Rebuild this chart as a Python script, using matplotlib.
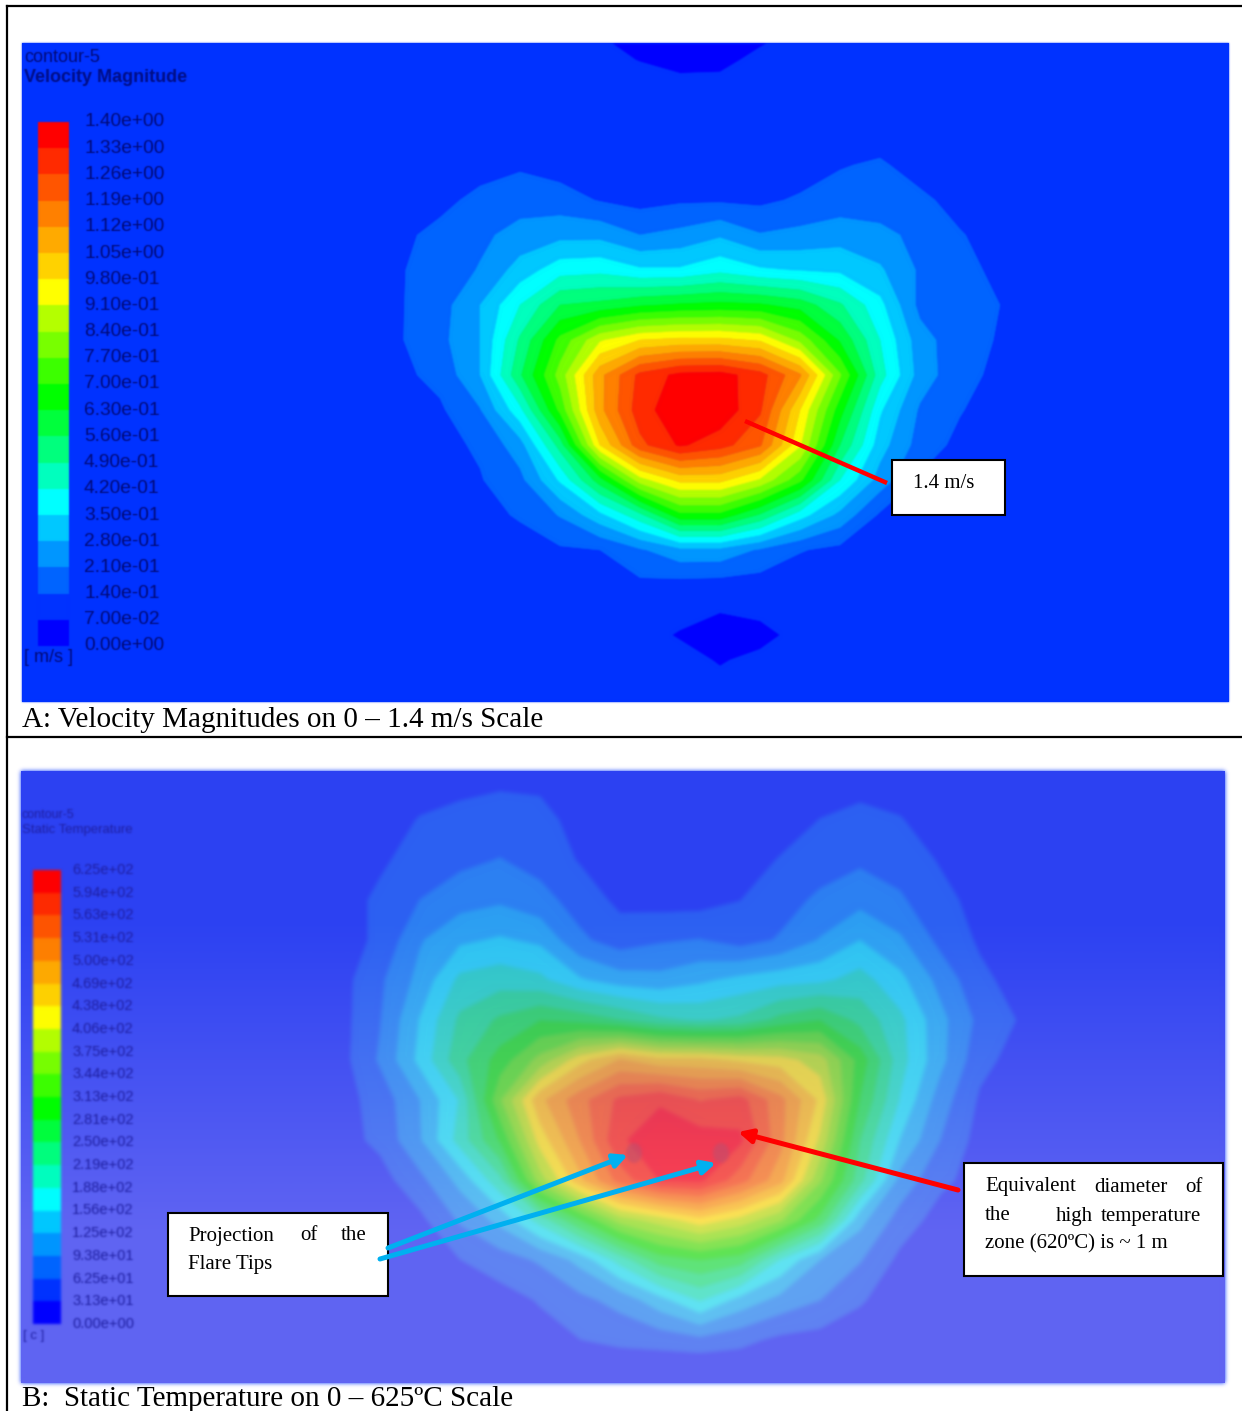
# two CFD contour plots (velocity and temperature) with call-outs, coordinates are page pixels
import numpy as np
import matplotlib
matplotlib.use('Agg')
import matplotlib.pyplot as plt
from matplotlib.colors import ListedColormap, BoundaryNorm
from matplotlib.patches import Ellipse, Rectangle

W, H = 1242, 1411

band_colors = ['#0000ff', '#0032ff', '#0064ff', '#0096ff', '#00c8ff', '#00ffff', '#00ffbe', '#00ff7d', '#00ff3c',
               '#00ff00', '#3cff00', '#78ff00', '#b4ff00', '#ffff00', '#ffd200', '#ffaa00', '#ff8000', '#ff5500',
               '#ff2a00', '#ff0000']

vel_levels = np.arange(21) * 0.07
vel_labels = ['0.00e+00', '7.00e-02', '1.40e-01', '2.10e-01', '2.80e-01', '3.50e-01', '4.20e-01', '4.90e-01',
              '5.60e-01', '6.30e-01', '7.00e-01', '7.70e-01', '8.40e-01', '9.10e-01', '9.80e-01', '1.05e+00',
              '1.12e+00', '1.19e+00', '1.26e+00', '1.33e+00', '1.40e+00']
temp_levels = np.arange(21) * 31.25
temp_labels = ['0.00e+00', '3.13e+01', '6.25e+01', '9.38e+01', '1.25e+02', '1.56e+02', '1.88e+02', '2.19e+02',
               '2.50e+02', '2.81e+02', '3.13e+02', '3.44e+02', '3.75e+02', '4.06e+02', '4.38e+02', '4.69e+02',
               '5.00e+02', '5.31e+02', '5.63e+02', '5.94e+02', '6.25e+02']

# velocity field
vel_x = [400, 440, 480, 520, 560, 600, 640, 680, 720, 760, 800, 840, 880, 920, 960, 1000, 1040]
vel_y = [43, 60, 80, 130, 165, 200, 235, 270, 305, 340, 375, 410, 445, 480, 515, 550, 580, 610, 635, 660]
vel_bg = 0.1
vel_field = [
    [.1, .1, .1, .1, .1, .08, .045, .03, .03, .065, .09, .1, .1, .1, .1, .1, .1],
    [.1, .1, .1, .1, .1, .095, .067, .05, .055, .085, .1, .1, .1, .1, .1, .1, .1],
    [.1, .1, .1, .1, .1, .1, .1, .08, .08, .1, .1, .1, .1, .1, .1, .1, .1],
    [.1, .1, .1, .1, .1, .1, .1, .1, .1, .1, .1, .1, .1, .1, .1, .1, .1],
    [.1, .1, .11, .13, .11, .1, .1, .1, .1, .1, .1, .135, .15, .11, .1, .1, .1],
    [.1, .12, .16, .18, .17, .135, .115, .13, .13, .125, .15, .17, .17, .155, .115, .1, .1],
    [.125, .16, .195, .235, .26, .26, .21, .23, .27, .215, .23, .25, .23, .19, .145, .11, .1],
    [.135, .17, .215, .31, .39, .40, .36, .36, .40, .36, .345, .335, .29, .20, .16, .125, .1],
    [.135, .18, .28, .42, .56, .58, .62, .64, .65, .64, .60, .50, .37, .19, .16, .14, .1],
    [.135, .19, .28, .50, .72, .90, .98, 1.0, 1.0, .97, .82, .62, .42, .24, .165, .135, .1],
    [.125, .16, .28, .55, .80, 1.10, 1.28, 1.35, 1.36, 1.29, 1.13, .78, .45, .25, .16, .125, .1],
    [.1, .13, .205, .40, .72, 1.10, 1.30, 1.38, 1.38, 1.27, .98, .66, .36, .20, .145, .1, .1],
    [.1, .12, .15, .25, .52, .98, 1.24, 1.34, 1.29, 1.20, .92, .56, .31, .18, .12, .1, .1],
    [.1, .1, .135, .19, .36, .60, .88, 1.0, 1.0, .90, .72, .42, .25, .13, .1, .1, .1],
    [.1, .1, .11, .15, .215, .33, .47, .68, .68, .55, .38, .26, .13, .1, .1, .1, .1],
    [.1, .1, .1, .1, .13, .14, .20, .26, .26, .20, .145, .12, .1, .1, .1, .1, .1],
    [.1, .1, .1, .1, .1, .11, .135, .135, .13, .12, .1, .1, .1, .1, .1, .1, .1],
    [.1, .1, .1, .1, .1, .1, .1, .09, .075, .085, .1, .1, .1, .1, .1, .1, .1],
    [.1, .1, .1, .1, .1, .1, .09, .065, .03, .05, .09, .1, .1, .1, .1, .1, .1],
    [.1, .1, .1, .1, .1, .1, .1, .09, .065, .085, .1, .1, .1, .1, .1, .1, .1],
]

# temperature field
temp_x = [340, 380, 420, 460, 500, 540, 580, 620, 660, 700, 740, 780, 820, 860, 900, 940, 980, 1020]
temp_y = [780, 820, 860, 900, 940, 980, 1020, 1060, 1100, 1140, 1180, 1220, 1260, 1300, 1340, 1360]
temp_bg = 50
temp_field = [
    [50, 50, 50, 50, 57, 56, 50, 50, 50, 50, 50, 50, 50, 50, 50, 50, 50, 50],
    [50, 50, 64, 74, 76, 72, 52, 50, 50, 50, 50, 50, 63, 72, 64, 50, 50, 50],
    [50, 58, 74, 86, 95, 82, 60, 50, 50, 50, 50, 64, 78, 88, 80, 60, 50, 50],
    [50, 68, 94, 112, 120, 105, 80, 55, 50, 50, 62, 80, 100, 115, 98, 72, 52, 50],
    [50, 68, 122, 150, 160, 150, 100, 78, 90, 95, 80, 97, 127, 156, 130, 85, 58, 50],
    [50, 88, 135, 195, 205, 195, 160, 140, 135, 150, 165, 175, 180, 200, 165, 115, 70, 50],
    [50, 92, 158, 225, 255, 280, 270, 250, 225, 215, 225, 260, 280, 240, 195, 135, 85, 60],
    [50, 98, 165, 240, 295, 355, 425, 470, 445, 445, 430, 420, 390, 300, 200, 135, 72, 50],
    [50, 75, 125, 190, 340, 460, 520, 570, 590, 560, 575, 510, 430, 280, 185, 110, 58, 50],
    [50, 70, 122, 200, 285, 420, 500, 590, 610, 610, 600, 510, 400, 250, 155, 94, 50, 50],
    [50, 50, 85, 135, 210, 360, 460, 545, 595, 600, 545, 480, 350, 230, 115, 70, 50, 50],
    [50, 50, 55, 98, 135, 200, 280, 360, 390, 425, 395, 350, 270, 135, 80, 50, 50, 50],
    [50, 50, 50, 62, 78, 98, 135, 200, 265, 281, 265, 185, 125, 96, 55, 50, 50, 50],
    [50, 50, 50, 50, 50, 65, 85, 105, 145, 190, 145, 115, 94, 65, 50, 50, 50, 50],
    [50, 50, 50, 50, 50, 50, 62, 70, 75, 85, 72, 55, 50, 50, 50, 50, 50, 50],
    [50, 50, 50, 50, 50, 50, 50, 50, 50, 50, 50, 50, 50, 50, 50, 50, 50, 50],
]

flare_tips_x = [634, 721]
flare_tips_y = [1153, 1153]

SERIF = 'Liberation Serif'
SANS = 'Liberation Sans'


def blur(sigma):
    # gaussian blur for agg_filter, done on premultiplied colours so edges do not go dark
    n = int(3 * sigma) + 1
    kernel = np.exp(-0.5 * (np.arange(-n, n + 1) / sigma) ** 2)
    kernel = kernel / kernel.sum()

    def apply(img, dpi):
        a = img[:, :, 3:4]
        pm = np.pad(np.dstack([img[:, :, :3] * a, a]), ((n, n), (n, n), (0, 0)))
        for axis in (0, 1):
            out = np.zeros_like(pm)
            for k, w in zip(range(-n, n + 1), kernel):
                out += w * np.roll(pm, k, axis=axis)
            pm = out
        alpha = np.clip(pm[:, :, 3:4], 1e-4, 1)
        res = np.dstack([np.clip(pm[:, :, :3] / alpha, 0, 1), pm[:, :, 3:4]])
        return res, -n, -n
    return apply


def px_axes(x0, y0, x1, y1):
    a = fig.add_axes([x0 / W, 1 - y1 / H, (x1 - x0) / W, (y1 - y0) / H])
    a.set_xlim(x0, x1)
    a.set_ylim(y1, y0)
    a.axis('off')
    return a


def draw_field(a, xs, ys, field, bg, levels, x0, y0, x1, y1, sigma):
    xx = [x0] + list(xs) + [x1]
    yy = [y0] + list(ys) + [y1]
    zz = np.pad(np.array(field, dtype=float), 1, constant_values=bg)
    cs = a.contourf(xx, yy, zz, levels=levels, colors=band_colors, antialiased=True)
    cs.set_edgecolor('face')
    cs.set_linewidth(0.4)
    cs.set_agg_filter(blur(sigma))
    return cs


def draw_scale(x0, y0, x1, y1, levels, sigma):
    a = px_axes(x0, y0, x1, y1)
    a.set_ylim(levels[0], levels[-1])
    cmap = ListedColormap(band_colors)
    mesh = a.pcolormesh([0, 1], levels, np.arange(20).reshape(-1, 1), cmap=cmap,
                        norm=BoundaryNorm(np.arange(21) - 0.5, 20))
    a.set_xlim(0, 1)
    mesh.set_agg_filter(blur(sigma))
    return a


fig = plt.figure(figsize=(W / 100, H / 100), dpi=100, facecolor='white')

# panel A
ax_a = px_axes(22, 43, 1229, 702)
ax_a.patch.set_visible(True)
ax_a.axis('on')
ax_a.set_xticks([])
ax_a.set_yticks([])
for s in ax_a.spines.values():
    s.set_visible(False)
ax_a.set_facecolor(band_colors[1])
draw_field(ax_a, vel_x, vel_y, vel_field, vel_bg, vel_levels, 22, 43, 1229, 702, 0.9)
draw_scale(38, 122, 69, 646, vel_levels, 0.8)

# panel B
ax_b = px_axes(21, 771, 1225, 1383)
ax_b.axis('on')
ax_b.set_xticks([])
ax_b.set_yticks([])
for s in ax_b.spines.values():
    s.set_visible(False)
ax_b.set_facecolor(band_colors[1])
draw_field(ax_b, temp_x, temp_y, temp_field, temp_bg, temp_levels, 21, 771, 1225, 1383, 2.2)
for tx, ty in zip(flare_tips_x, flare_tips_y):
    e = Ellipse((tx, ty), 16, 20, facecolor='#b01e28', edgecolor='none', alpha=0.6, zorder=3)
    e.set_agg_filter(blur(1.5))
    ax_b.add_patch(e)
# washed-out look of the second screenshot
wash = np.zeros((2, 1, 4))
wash[0, 0] = [45 / 97, 35 / 97, 85 / 97, 0.38]
wash[1, 0] = [1.0, 70 / 97, 85 / 97, 0.38]
ax_b.imshow(wash, extent=(21, 1225, 1383, 771), aspect='auto', interpolation='bilinear', zorder=4)
ax_b.set_xlim(21, 1225)
ax_b.set_ylim(1383, 771)
draw_scale(33, 870, 61, 1324, temp_levels, 1.4)

# page layer: rules, call-outs, all text
ax = fig.add_axes([0, 0, 1, 1], zorder=10)
ax.set_xlim(0, W)
ax.set_ylim(H, 0)
ax.axis('off')

ax.plot([7, W], [6, 6], color='black', lw=1.6)
ax.plot([7, 7], [6, H], color='black', lw=1.6)
ax.plot([7, W], [737, 737], color='black', lw=1.6)

ax.text(22, 720, 'A: Velocity Magnitudes on 0 – 1.4 m/s Scale', family=SERIF, fontsize=21, va='center', color='black')
ax.text(22, 1399, 'B:  Static Temperature on 0 – 625ºC Scale', family=SERIF, fontsize=21, va='center', color='black')

# legend text A
navy = '#000a78'
t = ax.text(24, 58, 'contour-5', family=SANS, fontsize=13, va='center', color=navy)
t.set_agg_filter(blur(0.7))
t = ax.text(24, 77, 'Velocity Magnitude', family=SANS, fontsize=13, va='center', color=navy, fontweight='bold', alpha=0.9)
t.set_agg_filter(blur(0.7))
t = ax.text(24, 658, '[ m/s ]', family=SANS, fontsize=13, va='center', color=navy)
t.set_agg_filter(blur(0.7))
for i, lab in enumerate(vel_labels):
    t = ax.text(84, 646 - i * 26.2, lab, family=SANS, fontsize=13.8, va='center', color=navy)
    t.set_agg_filter(blur(0.7))

# legend text B
navy_b = '#1e1ea0'
t = ax.text(22, 815, 'contour-5', family=SANS, fontsize=9, va='center', color=navy_b)
t.set_agg_filter(blur(1.0))
t = ax.text(22, 830, 'Static Temperature', family=SANS, fontsize=9.5, va='center', color=navy_b)
t.set_agg_filter(blur(1.0))
t = ax.text(23, 1336, '[ c ]', family=SANS, fontsize=9.5, va='center', color=navy_b)
t.set_agg_filter(blur(1.0))
for i, lab in enumerate(temp_labels):
    t = ax.text(72, 1324 - i * 22.7, lab, family=SANS, fontsize=10.5, va='center', color=navy_b)
    t.set_agg_filter(blur(1.0))

# call-outs
ax.plot([745, 887], [421, 483], color='#ff0000', lw=3.2, solid_capstyle='butt', zorder=2)
ax.add_patch(Rectangle((892, 460), 113, 55, facecolor='white', edgecolor='black', lw=1.5, zorder=3))
ax.text(913, 484, '1.4 m/s', family=SERIF, fontsize=15, va='center', zorder=4)

ax.annotate('', xy=(628, 1155), xytext=(388, 1248), zorder=2,
            arrowprops=dict(arrowstyle='-|>', color='#00b0f0', lw=3.6, mutation_scale=20, shrinkA=0, shrinkB=0))
ax.annotate('', xy=(716, 1163), xytext=(380, 1259), zorder=2,
            arrowprops=dict(arrowstyle='-|>', color='#00b0f0', lw=3.6, mutation_scale=20, shrinkA=0, shrinkB=0))
ax.annotate('', xy=(738, 1132), xytext=(958, 1190), zorder=2,
            arrowprops=dict(arrowstyle='-|>', color='#ff0000', lw=3.6, mutation_scale=20, shrinkA=0, shrinkB=0))

ax.add_patch(Rectangle((168, 1213), 220, 83, facecolor='white', edgecolor='black', lw=1.5, zorder=1))
ax.add_patch(Rectangle((964, 1163), 259, 113, facecolor='white', edgecolor='black', lw=1.5, zorder=3))
for wx, wy, word in [(188, 1236, 'Projection'), (300, 1236, 'of'), (341, 1236, 'the'), (188, 1265, 'Flare Tips'),
                     (985, 1187, 'Equivalent'), (1094, 1187, 'diameter'), (1185, 1187, 'of'),
                     (985, 1216, 'the'), (1056, 1216, 'high'), (1101, 1216, 'temperature'),
                     (985, 1244, 'zone (620ºC) is ~ 1 m')]:
    ax.text(wx, wy, word, family=SERIF, fontsize=15, va='center', zorder=4)

fig.savefig('out.png', dpi=100)
